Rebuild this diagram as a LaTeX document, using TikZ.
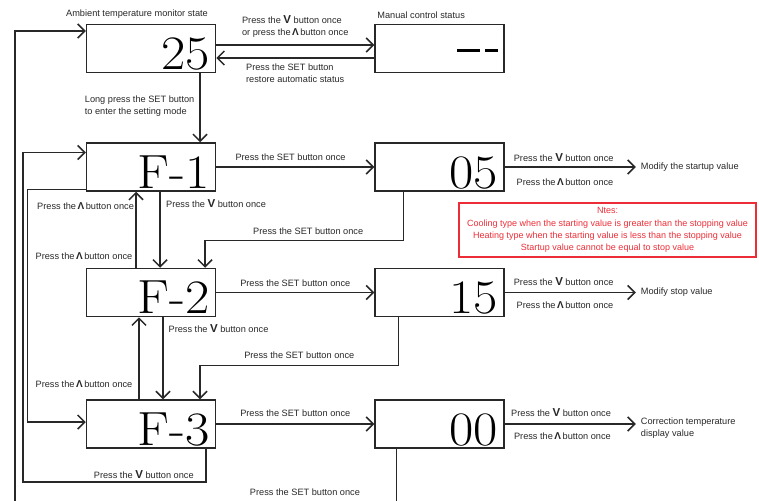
\documentclass[tikz,border=0pt]{standalone}
\usepackage{fontspec}
\newfontfamily\labelfont{Liberation Sans}
\newfontfamily\dispfont{Latin Modern Roman}[FakeStretch=1.1]
\usetikzlibrary{arrows.meta}
\usetikzlibrary{positioning}

\definecolor{lineGray}{RGB}{40,40,40}
\definecolor{noteRed}{RGB}{236,45,55}

\newcommand{\downkey}{{\fontsize{11.5}{11}\selectfont\bfseries V}}
\newcommand{\upkey}{{\fontsize{10}{10}\selectfont\bfseries Λ}}

\begin{document}
\begin{tikzpicture}[x=1pt, y=-1pt, node distance=71pt and 158pt]

\tikzset{dispbox/.style={draw=lineGray, line width=1.5pt, minimum width=129pt,
                         minimum height=48pt, inner xsep=6pt, inner ysep=3pt,
                         text width=117pt, align=right, text height=42pt,
                         text depth=0pt, font=\dispfont\fontsize{48}{48}\selectfont},
         lbl/.style={font=\labelfont\fontsize{9.2}{12}\selectfont, text=lineGray,
                     inner sep=2pt},
         arr/.style={draw=lineGray, line width=1.3pt,
                     -{Straight Barb[length=7pt,width=14pt,line width=1.5pt]}},
         note/.style={draw=noteRed, line width=1.4pt, text=noteRed, align=center,
                      minimum width=297pt, minimum height=54pt, inner sep=2pt,
                      font=\labelfont\fontsize{9}{12.3}\selectfont}}

\useasboundingbox (0,0) rectangle (759,500);
\clip (0,0) rectangle (759,500);

% display boxes
\node (disp25) [dispbox] at (151,48.5) {25};
\node (f1) [dispbox, below=69pt of disp25] {F-1};
\node (f2) [dispbox, below=76pt of f1] {F-2};
\node (f3) [dispbox, below=82pt of f2] {F-3};
\node (manual) [dispbox, right=of disp25]
  {\rule[17pt]{23pt}{3pt}\hspace{5pt}\rule[17pt]{13pt}{3pt}\hspace{3pt}};
\node (f05) [dispbox, right=of f1] {05};
\node (f15) [dispbox, right=of f2] {15};
\node (f00) [dispbox, right=of f3] {00};

\node (ambLbl) [lbl, above=3pt of disp25.north, xshift=-14pt] {Ambient temperature monitor state};
\node (manLbl) [lbl, anchor=south west] at ([xshift=1pt, yshift=3pt]manual.north west) {Manual control status};

% value results
\node (modStart) [lbl, inner xsep=5pt, right=131pt of f05] {Modify the startup value};
\node (modStop) [lbl, inner xsep=5pt, right=131pt of f15] {Modify stop value};
\node (modCorr) [lbl, inner xsep=5pt, align=left, right=131pt of f00, yshift=-4pt]
  {Correction temperature\\display value};

\node (notes) [note] at (607.5,230) {Ntes:\\
  Cooling type when the starting value is greater than the stopping value\\
  Heating type when the starting value is less than the stopping value\\
  Startup value cannot be equal to stop value};

% monitor <-> manual
\draw[arr] ([yshift=3.5pt]disp25.east) -- ([yshift=3.5pt]disp25.east -| manual.west)
  node[lbl, above=5pt, midway, align=left] {Press the \downkey\ button once\\or press the\,\upkey\,button once};
\draw[arr] ([yshift=-9.5pt]manual.west) -- ([yshift=-9.5pt]manual.west -| disp25.east)
  node[lbl, below=3pt, midway, align=left] {Press the SET button\\restore automatic status};
\draw[arr] ([xshift=49pt]disp25.south) -- ([xshift=49pt]f1.north)
  node[lbl, left=3pt, pos=0.47, align=left] {Long press the SET button\\to enter the setting mode};

% F-1
\draw[arr] (f1) -- (f05) node[lbl, above=3.5pt, pos=0.47] {Press the SET button once};
\draw[arr] (f05) -- (modStart)
  node[lbl, above=3pt, pos=0.45] {Press the \downkey\ button once}
  node[lbl, below=8.5pt, pos=0.46] {Press the\,\upkey\,button once};
\draw[arr] ([xshift=-36pt]f05.south) -- ++(0,48.5) -| ([xshift=54pt]f2.north)
  node[lbl, above=3.5pt, pos=0.24] {Press the SET button once};
\draw[arr] ([xshift=9pt]f1.south) -- ([xshift=9pt]f2.north)
  node[lbl, right=3.5pt, pos=0.16] {Press the \downkey\ button once};
\draw[arr] ([xshift=-15pt]f2.north) -- ([xshift=-15pt]f1.south)
  node[lbl, left=1pt, pos=0.15] {Press the\,\upkey\,button once};
\draw[arr] ([yshift=-22.5pt]f1.west) -- ++(-58,0) |- ([yshift=2pt]f3.west);
\node (wrapUpLbl) [lbl, anchor=west] at (35,206) {Press the\,\upkey\,button once};

% F-2
\draw[arr] (f2) -- (f15) node[lbl, above=3.5pt, midway] {Press the SET button once};
\draw[arr] (f15) -- (modStop)
  node[lbl, above=4pt, pos=0.45] {Press the \downkey\ button once}
  node[lbl, below=6.5pt, pos=0.46] {Press the\,\upkey\,button once};
\draw[arr] ([xshift=-41pt]f15.south) -- ++(0,48.5) -| ([xshift=49pt]f3.north)
  node[lbl, above=4.5pt, pos=0.25] {Press the SET button once};
\draw[arr] ([xshift=12pt]f2.south) -- ([xshift=12pt]f3.north)
  node[lbl, right=3pt, pos=0.14] {Press the \downkey\ button once};
\draw[arr] ([xshift=-12pt]f3.north) -- ([xshift=-12pt]f2.south)
  node[lbl, left=4pt, pos=0.19] {Press the\,\upkey\,button once};

% F-3
\draw[arr] (f3) -- (f00) node[lbl, above=4.5pt, midway] {Press the SET button once};
\draw[arr] (f00) -- (f00 -| modCorr.west)
  node[lbl, above=5pt, pos=0.43] {Press the \downkey\ button once}
  node[lbl, below=5.5pt, pos=0.44] {Press the\,\upkey\,button once};
\draw[arr] ([xshift=55pt]f3.south) |- (23,482)
  node[lbl, above=1pt, pos=0.67] {Press the \downkey\ button once}
  |- ([yshift=14.5pt]f1.west);
\draw[arr] ([xshift=-43pt]f00.south) |- (15,503)
  node[lbl, above=5pt, pos=0.62] {Press the SET button once}
  |- ([yshift=17.5pt]disp25.west);

\end{tikzpicture}
\end{document}
